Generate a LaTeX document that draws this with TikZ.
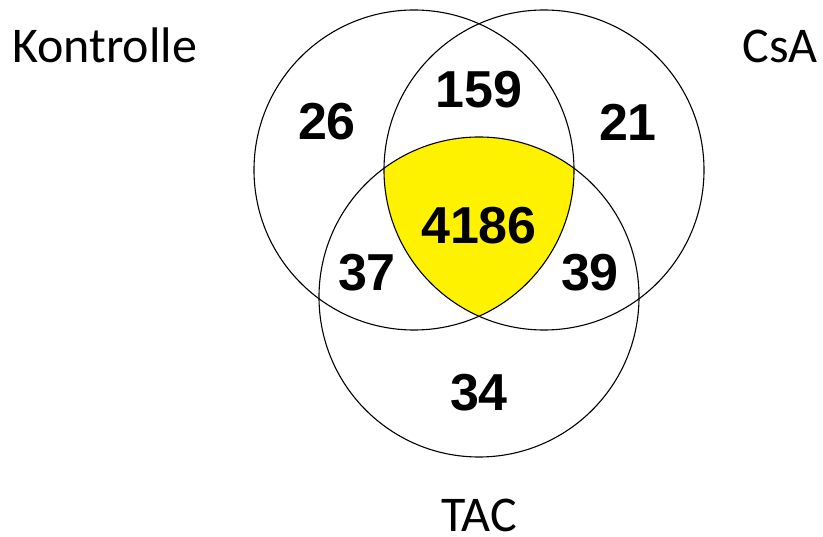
\documentclass[tikz,border=0pt]{standalone}
\usepackage{fontspec}
\setmainfont{Carlito}
\newfontfamily\numfont{Liberation Sans}
\begin{document}
\begin{tikzpicture}[
    x=1pt, y=-1pt,
    setlabel/.style={font=\fontsize{50}{60}\selectfont, inner sep=0pt},
    count/.style={font=\numfont\bfseries\fontsize{52}{60}\selectfont, inner sep=0pt},
    ring/.style={draw=black, line width=1.1pt}
]
    \useasboundingbox (0,0) rectangle (823,537);

    % Centres
    \coordinate (cK) at (414,170);
    \coordinate (cC) at (544,170);
    \coordinate (cT) at (479,297);

    % Common core
    \begin{scope}
        \clip (cK) circle (160pt);
        \clip (cC) circle (160pt);
        \fill[yellow] (cT) circle (160pt);
    \end{scope}

    % Circles
    \draw[ring] (cK) circle (160pt);
    \draw[ring] (cC) circle (160pt);
    \draw[ring] (cT) circle (160pt);

    % Set names
    \node[setlabel, anchor=base west] (kontrolle) at (12,63) {Kontrolle};
    \node[setlabel, anchor=base east] (csa) at (818,63) {CsA};
    \node[setlabel, anchor=base] (tac) at (479,532) {TAC};

    % Counts
    \node[count] (onlyK) at (327,122) {26};
    \node[count] (KC) at (479,90) {159};
    \node[count] (onlyC) at (628,122) {21};
    \node[count] (KCT) at (479,226) {4186};
    \node[count] (KT) at (367,273) {37};
    \node[count] (CT) at (590,273) {39};
    \node[count] (onlyT) at (479,393) {34};
\end{tikzpicture}
\end{document}
